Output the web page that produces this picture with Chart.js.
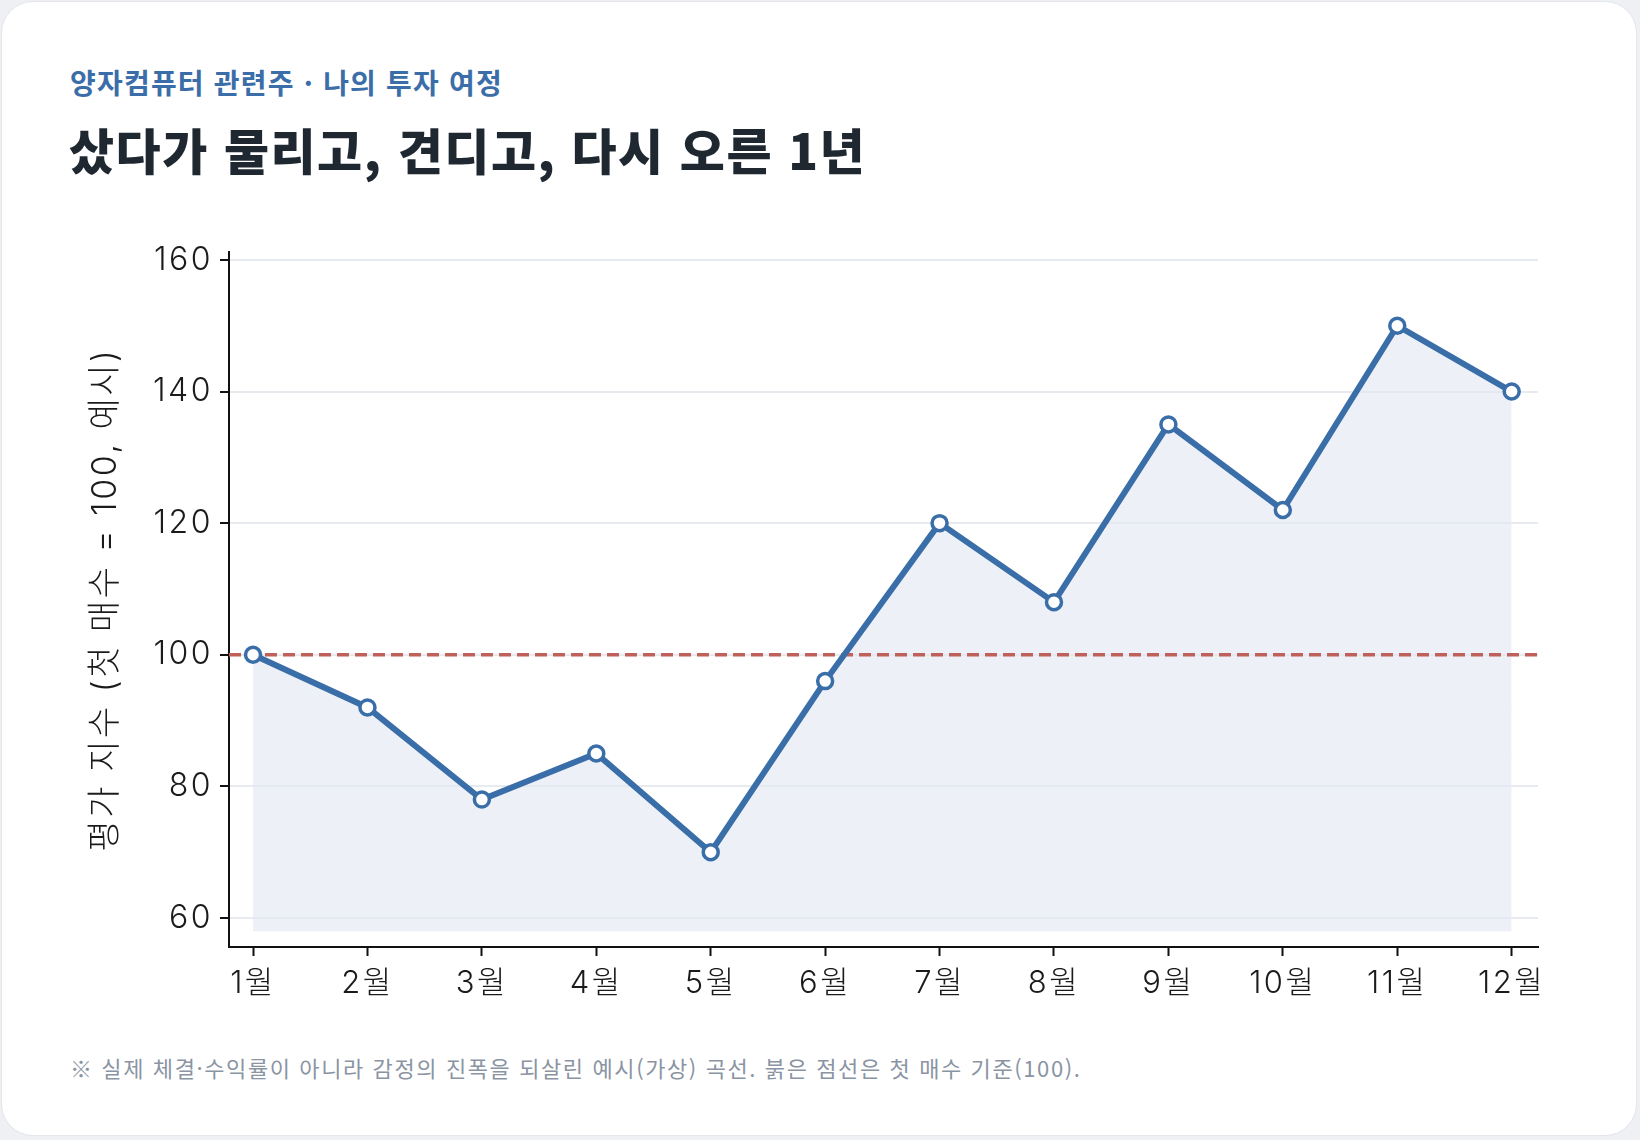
<!DOCTYPE html>
<html lang="ko">
<head>
<meta charset="utf-8">
<script src="https://cdn.jsdelivr.net/npm/chart.js@4"></script>
<style>
  html, body { margin: 0; padding: 0; width: 1640px; height: 1140px; background: #eef0f3; overflow: hidden; }
  .card { position: absolute; left: 1px; top: 1px; width: 1636px; height: 1135px; background: #fff;
          border: 1px solid #e3e6ea; border-radius: 32px; box-sizing: border-box; }
  .sub { position: absolute; left: 70px; top: 68px; font-family: "Noto Sans CJK KR", sans-serif; font-weight: 700;
         font-size: 28px; color: #3b6ea8; line-height: 1; white-space: nowrap; letter-spacing: 1.2px; }
  .title { position: absolute; left: 69px; top: 124px; font-family: "Noto Sans CJK KR", sans-serif; font-weight: 800;
           font-size: 49px; color: #1f2731; line-height: 1; white-space: nowrap; letter-spacing: 1.5px; }
  .foot { position: absolute; left: 70px; top: 1056px; font-family: "Noto Sans CJK KR", sans-serif; font-weight: 400;
          font-size: 22px; color: #8a94a3; line-height: 1; white-space: nowrap; letter-spacing: 1.6px; }
  .wrap { position: absolute; left: 0; top: 0; width: 1640px; height: 1140px; }
</style>
</head>
<body>
<div class="card"></div>
<div class="sub">양자컴퓨터 관련주 · 나의 투자 여정</div>
<div class="title">샀다가 물리고, 견디고, 다시 오른 1년</div>
<div class="foot">※ 실제 체결·수익률이 아니라 감정의 진폭을 되살린 예시(가상) 곡선. 붉은 점선은 첫 매수 기준(100).</div>
<div class="wrap"><canvas id="c" width="1640" height="1140"></canvas></div>
<script>
const months = ["1월","2월","3월","4월","5월","6월","7월","8월","9월","10월","11월","12월"];
const indexValues = [100, 92, 78, 85, 70, 96, 120, 108, 135, 122, 150, 140];
const baseline = 100;
const fillFloor = 58;
const yTicks = [60, 80, 100, 120, 140, 160];
const yMin = 55.6, yMax = 161.2;
const xMin = -0.21, xMax = 11.23;

const FONT = 'Inter, "Noto Sans CJK KR", sans-serif';
const lineData = indexValues.map((v, i) => ({ x: i, y: v }));
const baseData = [{ x: xMin, y: baseline }, { x: xMax, y: baseline }];

const spacingPlugin = {
  id: 'spacing',
  beforeDraw(chart) { chart.ctx.letterSpacing = '2.5px'; }
};

new Chart(document.getElementById('c'), {
  type: 'line',
  plugins: [spacingPlugin],
  data: {
    datasets: [
      {
        data: baseData,
        borderColor: '#c0605a',
        borderWidth: 3.5,
        borderDash: [12, 6],
        pointRadius: 0,
        fill: false,
        order: 2
      },
      {
        data: lineData,
        borderColor: '#3a6ea8',
        borderWidth: 6,
        pointRadius: 7.5,
        pointBorderWidth: 3.5,
        pointBackgroundColor: '#ffffff',
        pointBorderColor: '#3a6ea8',
        backgroundColor: 'rgba(226,233,242,0.62)',
        fill: { value: fillFloor },
        tension: 0,
        order: 1
      }
    ]
  },
  options: {
    responsive: false,
    animation: false,
    devicePixelRatio: 1,
    layout: { padding: { left: 76, right: 102, top: 252, bottom: 113 } },
    plugins: { legend: { display: false }, tooltip: { enabled: false }, filler: { drawTime: 'beforeDatasetsDraw' } },
    scales: {
      x: {
        type: 'linear',
        min: xMin, max: xMax,
        afterBuildTicks: (s) => { s.ticks = months.map((m, i) => ({ value: i })); },
        afterFit: (s) => { s.height = 80; },
        ticks: {
          callback: (v) => months[v] ?? '',
          font: { family: FONT, size: 31, weight: 300 },
          color: '#1b1b1b',
          padding: 9,
          maxRotation: 0,
          autoSkip: false
        },
        grid: { drawOnChartArea: false, drawTicks: true, tickLength: 9, tickColor: '#111', tickWidth: 2 },
        border: { display: true, color: '#111', width: 2 }
      },
      y: {
        min: yMin, max: yMax,
        afterBuildTicks: (s) => { s.ticks = yTicks.map(v => ({ value: v })); },
        afterFit: (s) => { s.width = 153; },
        ticks: {
          font: { family: FONT, size: 32, weight: 300 },
          color: '#1b1b1b',
          padding: 7
        },
        title: {
          display: true,
          text: '평가 지수 (첫 매수 = 100, 예시)',
          font: { family: FONT, size: 34, weight: 300 },
          color: '#1b1b1b',
          padding: { top: 9, bottom: 0 }
        },
        grid: { color: '#e7ebf0', lineWidth: 2, drawTicks: true, tickLength: 9, tickColor: '#111', tickWidth: 2 },
        border: { display: true, color: '#111', width: 2 }
      }
    }
  }
});
</script>
</body>
</html>
